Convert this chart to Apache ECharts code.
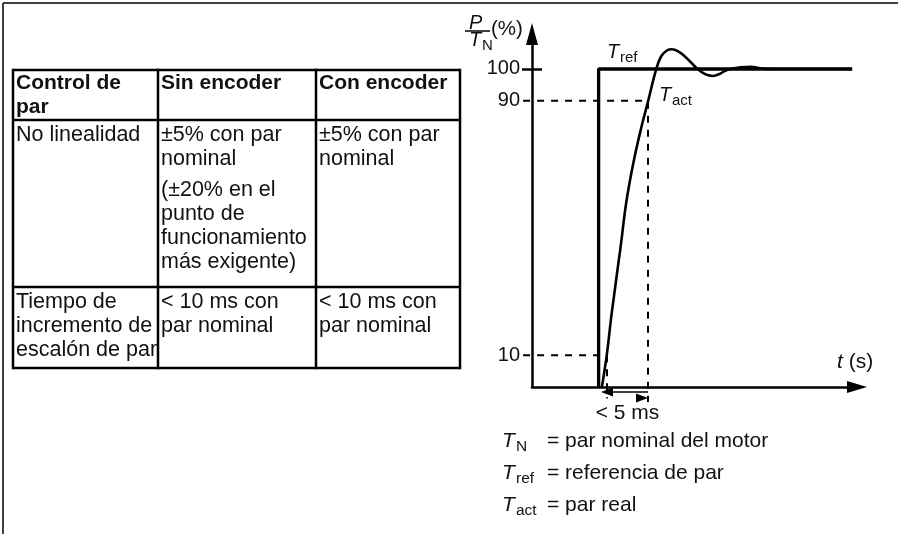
<!DOCTYPE html>
<html>
<head>
<meta charset="utf-8">
<script src="https://cdn.jsdelivr.net/npm/echarts@6/dist/echarts.min.js"></script>
<style>
html,body{margin:0;padding:0;background:#fff;}
#chart{width:898px;height:534px;}
</style>
</head>
<body>
<div id="chart"></div>
<script>
// ---- data ----
const tableHeader = [['Control de', 'par'], ['Sin encoder'], ['Con encoder']];
const rowNonLinearity = [['No linealidad'], ['±5% con par', 'nominal'], ['±5% con par', 'nominal']];
const rowNonLinearityExtra = ['(±20% en el', 'punto de', 'funcionamiento', 'más exigente)'];
const rowStepRise = [['Tiempo de', 'incremento de', 'escalón de par'], ['< 10 ms con', 'par nominal'], ['< 10 ms con', 'par nominal']];

const yTickValues = [10, 90, 100];
const yMajorTick = [100];

// T_ref (step reference), time in ms, torque in %
const refTime = [8.2, 8.2, 39.4];
const refTorque = [0, 100, 100];

// T_act (actual torque response)
const actTime = [8.6, 9.2, 9.8, 10.9, 11.6, 12.4, 13.3, 14.3, 15.3, 15.9, 16.6, 17.2, 18.0, 19.0, 20.3, 21.3, 22.3, 23.2, 24.0, 25.6, 27.0, 28.1, 29.5, 39.4];
const actTorque = [0, 10, 23, 44, 58, 69.5, 80, 90, 100, 104, 105.8, 106.2, 105.5, 103.5, 100.2, 98.4, 97.8, 98.6, 99.7, 100.5, 100.7, 100.2, 100, 100];

// rise-time guides
const riseLevels = [10, 90];
const riseTimes = [9.23, 14.28];
const guideStart = -1.1;
const guideBottom = [-3.6, -4.7];
const spanLevel = -1.6;
const spanLabel = '< 5 ms';

const legendSymbols = [['T', 'N'], ['T', 'ref'], ['T', 'act']];
const legendTexts = ['= par nominal del motor', '= referencia de par', '= par real'];

// ---- build ----
const FONT = "'Liberation Sans', Arial, sans-serif";
const FS = 21.5;

const actData = actTime.map((t, i) => [t, actTorque[i]]);
const refData = refTime.map((t, i) => [t, refTorque[i]]);
const guideData = [];
riseLevels.forEach((lv, i) => {
  guideData.push([guideStart, lv], [riseTimes[i], lv], [riseTimes[i], guideBottom[i]], null);
});

const g = [];
function line(x1, y1, x2, y2, w) {
  g.push({type: 'line', shape: {x1, y1, x2, y2}, style: {stroke: '#000', lineWidth: w}, silent: true});
}
function text(str, x, y, opt) {
  opt = opt || {};
  g.push({type: 'text', x, y, silent: true, style: Object.assign({
    text: str, fill: '#111', fontFamily: FONT, fontSize: FS,
    align: 'left', verticalAlign: 'middle'
  }, opt)});
}

// frame
line(3, 3, 898, 3, 1.5);
line(3, 3, 3, 534, 1.5);

// table grid
const colX = [13, 158, 316, 460];
const rowY = [70, 120, 287, 368];
colX.forEach(x => line(x, rowY[0] - 1.2, x, rowY[3] + 1.2, 2.5));
rowY.forEach(y => line(colX[0], y, colX[3], y, 2.5));

const LH = 24;
const padX = 3;
function cellLines(lines, col, firstY, bold) {
  lines.forEach((s, i) => text(s, colX[col] + padX, firstY + i * LH, bold ? {fontWeight: 'bold', fontSize: 21} : {}));
}
tableHeader.forEach((c, i) => cellLines(c, i, 83, true));
rowNonLinearity.forEach((c, i) => cellLines(c, i, 135, false));
cellLines(rowNonLinearityExtra, 1, 190, false);
rowStepRise.forEach((c, i) => cellLines(c, i, 302, false));

// y axis title  P / T_N (%)
text('P', 469, 23, {fontStyle: 'italic', fontSize: 20});
line(465, 31, 490, 31, 1.5);
text('T', 469, 40, {fontStyle: 'italic', fontSize: 20});
text('N', 482, 46, {fontSize: 15});
text('(%)', 491, 29, {fontSize: 20.5});

// curve labels
text('T', 607, 52, {fontStyle: 'italic', fontSize: 20});
text('ref', 620, 58, {fontSize: 15});
text('T', 659, 95, {fontStyle: 'italic', fontSize: 20});
text('act', 672, 101, {fontSize: 15});

// time axis label
text('{i|t} (s)', 837, 362, {fontSize: 21, rich: {i: {fontStyle: 'italic', fontSize: 21, fontFamily: FONT}}});

// legend
const legY = [441, 473, 505];
legendSymbols.forEach((s, i) => {
  text(s[0], 502, legY[i], {fontStyle: 'italic', fontSize: 21});
  text(s[1], 516, legY[i] + 6, {fontSize: 15.5});
  text(legendTexts[i], 547, legY[i], {fontSize: 21});
});

const chart = echarts.init(document.getElementById('chart'), null, {renderer: 'canvas'});
const axisLineStyle = {color: '#000', width: 2.5};
chart.setOption({
  animation: false,
  backgroundColor: '#fff',
  grid: [
    {left: 532, right: 41, top: 34, bottom: 147, containLabel: false},
    // overlay grid with the same scale, extended below/left of the axes for guide marks
    {left: 515.75, right: 41, top: 34, bottom: 115.2, containLabel: false}
  ],
  xAxis: [{
    gridIndex: 0, type: 'value', min: 0, max: 40,
    axisLine: {show: true, onZero: false, symbol: ['none', 'triangle'], symbolSize: [12, 20], lineStyle: axisLineStyle},
    axisTick: {show: false}, axisLabel: {show: false}, splitLine: {show: false}
  }, {
    gridIndex: 1, type: 'value', min: -2, max: 40, show: false
  }],
  yAxis: [{
    gridIndex: 0, type: 'value', min: 0, max: 111, position: 'left',
    axisLine: {show: true, onZero: false, symbol: ['none', 'triangle'], symbolSize: [12, 22], lineStyle: axisLineStyle},
    axisTick: {show: true, length: 10, customValues: yMajorTick, lineStyle: {color: '#000', width: 2.5}},
    axisLabel: {show: true, customValues: yTickValues, margin: 12, color: '#111', fontSize: 20, fontFamily: FONT},
    splitLine: {show: false}
  }, {
    gridIndex: 0, type: 'value', min: 0, max: 111, position: 'left', offset: 0,
    axisLine: {show: false},
    axisTick: {show: true, inside: true, length: 10, customValues: yMajorTick, lineStyle: {color: '#000', width: 2.5}},
    axisLabel: {show: false}, splitLine: {show: false}
  }, {
    gridIndex: 1, type: 'value', min: -10, max: 111, show: false
  }],
  series: [
    {
      name: 'guides', type: 'line', xAxisIndex: 1, yAxisIndex: 2,
      data: guideData, showSymbol: false, silent: true, connectNulls: false,
      lineStyle: {color: '#000', width: 2, type: [7, 7]},
      markLine: {
        silent: true, symbol: ['triangle', 'triangle'], symbolSize: [9, 12], symbolOffset: [0, 6],
        lineStyle: {color: '#000', width: 1.6, type: 'solid'},
        label: {show: true, position: 'insideMiddleBottom', formatter: spanLabel, color: '#111', fontSize: 21, fontFamily: FONT, distance: 11},
        data: [[{coord: [riseTimes[0], spanLevel]}, {coord: [riseTimes[1], spanLevel]}]]
      }
    },
    {
      name: 'Tref', type: 'line', xAxisIndex: 0, yAxisIndex: 0, data: refData, showSymbol: false, silent: true, clip: false,
      lineStyle: {color: '#000', width: 3.3}
    },
    {
      name: 'Tact', type: 'line', xAxisIndex: 0, yAxisIndex: 0, data: actData, showSymbol: false, silent: true, clip: false, smooth: 0.4,
      lineStyle: {color: '#000', width: 2.6}
    }
  ],
  graphic: g
});
</script>
</body>
</html>
